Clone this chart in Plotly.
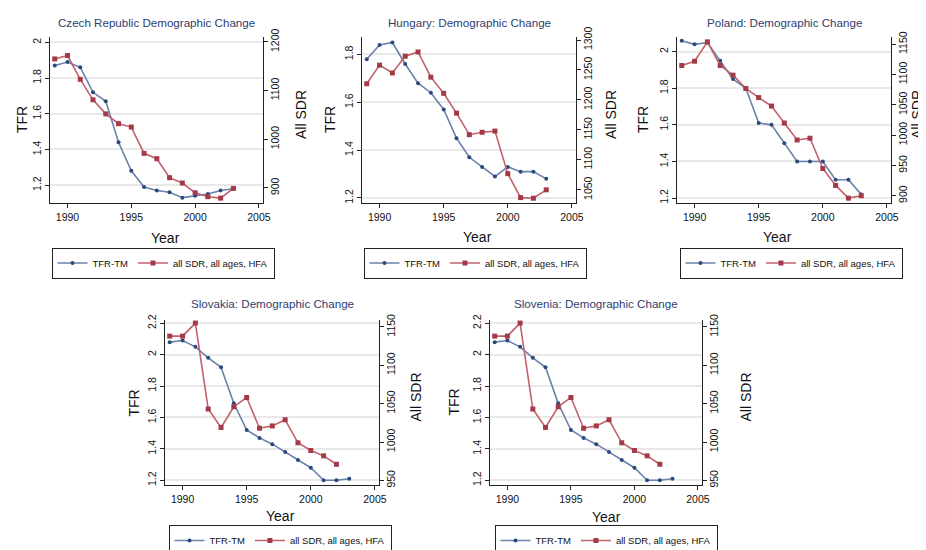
import plotly.graph_objects as go

# ---------------- data ----------------
years = [1989, 1990, 1991, 1992, 1993, 1994, 1995, 1996, 1997, 1998, 1999, 2000, 2001, 2002, 2003]
years_to_2002 = years[:-1]

czech_tfr = [1.87, 1.89, 1.86, 1.72, 1.67, 1.44, 1.28, 1.19, 1.17, 1.16, 1.13, 1.14, 1.15, 1.17, 1.18]
czech_sdr = [1165, 1172, 1123, 1081, 1052, 1032, 1025, 971, 960, 921, 910, 890, 882, 879, 899]

hungary_tfr = [1.78, 1.84, 1.85, 1.76, 1.68, 1.64, 1.57, 1.45, 1.37, 1.33, 1.29, 1.33, 1.31, 1.31, 1.28]
hungary_sdr = [1227, 1258, 1245, 1273, 1280, 1238, 1211, 1178, 1142, 1146, 1148, 1077, 1037, 1036, 1050]

poland_tfr = [2.06, 2.04, 2.05, 1.95, 1.85, 1.80, 1.61, 1.60, 1.50, 1.40, 1.40, 1.40, 1.30, 1.30, 1.22]
poland_sdr = [1115, 1122, 1154, 1115, 1099, 1077, 1062, 1048, 1020, 992, 995, 945, 917, 896, 900]

slovakia_tfr = [2.08, 2.09, 2.05, 1.98, 1.92, 1.69, 1.52, 1.47, 1.43, 1.38, 1.33, 1.28, 1.20, 1.20, 1.21]
slovakia_sdr = [1138, 1138, 1155, 1043, 1019, 1046, 1058, 1018, 1021, 1029, 999, 989, 982, 971]

slovenia_tfr = [2.08, 2.09, 2.05, 1.98, 1.92, 1.69, 1.52, 1.47, 1.43, 1.38, 1.33, 1.28, 1.20, 1.20, 1.21]
slovenia_sdr = [1138, 1138, 1155, 1043, 1019, 1046, 1058, 1018, 1021, 1029, 999, 989, 982, 971]

titles = ["Czech Republic Demographic Change", "Hungary: Demographic Change",
          "Poland: Demographic Change", "Slovakia: Demographic Change",
          "Slovenia: Demographic Change"]

x_ticks = [1990, 1995, 2000, 2005]
tfr_ticks = [
    [1.2, 1.4, 1.6, 1.8, 2.0],
    [1.2, 1.4, 1.6, 1.8],
    [1.2, 1.4, 1.6, 1.8, 2.0],
    [1.2, 1.4, 1.6, 1.8, 2.0, 2.2],
    [1.2, 1.4, 1.6, 1.8, 2.0, 2.2],
]
tfr_ticklabels = [
    ["1.2", "1.4", "1.6", "1.8", "2"],
    ["1.2", "1.4", "1.6", "1.8"],
    ["1.2", "1.4", "1.6", "1.8", "2"],
    ["1.2", "1.4", "1.6", "1.8", "2", "2.2"],
    ["1.2", "1.4", "1.6", "1.8", "2", "2.2"],
]
sdr_ticks = [
    [900, 1000, 1100, 1200],
    [1050, 1100, 1150, 1200, 1250, 1300],
    [900, 950, 1000, 1050, 1100, 1150],
    [950, 1000, 1050, 1100, 1150],
    [950, 1000, 1050, 1100, 1150],
]

series = [
    (czech_tfr, years, czech_sdr, years),
    (hungary_tfr, years, hungary_sdr, years),
    (poland_tfr, years, poland_sdr, years),
    (slovakia_tfr, years, slovakia_sdr, years_to_2002),
    (slovenia_tfr, years, slovenia_sdr, years_to_2002),
]

# ---------------- layout geometry (pixels) ----------------
W, H = 926, 550
# plot area boxes: left, right, top, bottom
boxes = [
    (42, 255, 29, 195),
    (354, 568, 29, 195),
    (669, 883, 29, 195),
    (157, 371, 312, 477),
    (482, 694, 312, 477),
]
tfr_ranges = [(1.10, 2.03), (1.179, 1.873), (1.173, 2.08), (1.17, 2.221), (1.17, 2.221)]
sdr_ranges = [(869, 1210), (1028, 1305), (888, 1162), (944, 1159), (944, 1159)]
x_range = (1988.63, 2005.32)

title_y = [14, 14, 14, 295, 295]
tfr_title_x = [14, 322, 635, 125, 445]
sdr_title_x = [293, 603, 909, 407, 737]
year_pos = [(157, 230), (469, 229), (769, 229), (272, 508), (598, 509)]
# legend: (center x, y, anchor)
legend_pos = [(155, 255, "middle"), (467, 255, "middle"), (783, 255, "middle"),
              (272, 548, "bottom"), (598, 548, "bottom")]

FONT = "Liberation Sans, Arial, sans-serif"
BLUE_LINE = "#6b82ad"
BLUE_MARK = "#2b4a7c"
RED_LINE = "#c2606b"
RED_MARK = "#a33a48"
TITLE_COL = "#2e3d6e"
AX_COL = "#222222"

fig = go.Figure()
annotations = []
layout = dict(
    width=W, height=H,
    margin=dict(l=0, r=0, t=0, b=0),
    paper_bgcolor="white", plot_bgcolor="white",
    font=dict(family=FONT, color="#111111", size=10),
    showlegend=True,
)

def px(x):
    return x / W

def py(y):
    return 1 - y / H

for i in range(5):
    n = i + 1
    m = i + 6
    xname = "x" if n == 1 else f"x{n}"
    yl = "y" if n == 1 else f"y{n}"
    yr = f"y{m}"
    leg = "legend" if n == 1 else f"legend{n}"
    tfr, tyears, sdr, syears = series[i]

    fig.add_trace(go.Scatter(
        x=tyears, y=tfr, xaxis=xname, yaxis=yl, name="TFR-TM", legend=leg,
        mode="lines+markers",
        line=dict(color=BLUE_LINE, width=1.6),
        marker=dict(symbol="circle", size=4, color=BLUE_MARK),
    ))
    fig.add_trace(go.Scatter(
        x=syears, y=sdr, xaxis=xname, yaxis=yr, name="all SDR, all ages, HFA", legend=leg,
        mode="lines+markers",
        line=dict(color=RED_LINE, width=1.6),
        marker=dict(symbol="square", size=5, color=RED_MARK),
    ))

    l, r, t, b = boxes[i]
    xkey = "xaxis" if n == 1 else f"xaxis{n}"
    ylkey = "yaxis" if n == 1 else f"yaxis{n}"
    yrkey = f"yaxis{m}"

    layout[xkey] = dict(
        domain=[px(l), px(r)], anchor=yl, range=list(x_range),
        tickvals=x_ticks, ticks="outside", ticklen=4, tickcolor=AX_COL,
        showline=True, linecolor=AX_COL, linewidth=1, showgrid=False,
        zeroline=False, tickfont=dict(size=10.5), automargin=False,
    )
    layout[ylkey] = dict(
        domain=[py(b), py(t)], anchor=xname, range=list(tfr_ranges[i]),
        tickvals=tfr_ticks[i], ticktext=tfr_ticklabels[i], tickangle=-90,
        ticks="outside", ticklen=4, tickcolor=AX_COL,
        showline=True, linecolor=AX_COL, linewidth=1,
        showgrid=True, gridcolor="#e8e8e8", gridwidth=1.5,
        zeroline=False, tickfont=dict(size=10.5), automargin=False,
    )
    layout[yrkey] = dict(
        overlaying=yl, anchor=xname, side="right", range=list(sdr_ranges[i]),
        tickvals=sdr_ticks[i], tickangle=-90, ticklabelstandoff=-2,
        ticks="outside", ticklen=4, tickcolor=AX_COL,
        showline=True, linecolor=AX_COL, linewidth=1,
        showgrid=False, zeroline=False, tickfont=dict(size=10.5), automargin=False,
    )

    lx, ly, lanchor = legend_pos[i]
    layout[leg] = dict(
        orientation="h", x=px(lx), y=py(ly), xanchor="center", yanchor=lanchor,
        bordercolor="#222222", borderwidth=1, bgcolor="rgba(255,255,255,0)",
        font=dict(size=9.5), itemwidth=30, tracegroupgap=0,
    )

    # title
    annotations.append(dict(
        text=titles[i], x=px((l + r) / 2), y=py(title_y[i]), xref="paper", yref="paper",
        xanchor="center", yanchor="middle", showarrow=False,
        font=dict(size=11.6, color=TITLE_COL),
    ))
    # axis titles
    cy = (t + b) / 2
    annotations.append(dict(
        text="TFR", x=px(tfr_title_x[i]), y=py(cy), xref="paper", yref="paper",
        xanchor="center", yanchor="middle", showarrow=False, textangle=-90,
        font=dict(size=14, color="#111111"),
    ))
    annotations.append(dict(
        text="All SDR", x=px(sdr_title_x[i]), y=py(cy - 5), xref="paper", yref="paper",
        xanchor="center", yanchor="middle", showarrow=False, textangle=-90,
        font=dict(size=14, color="#111111"),
    ))
    yx, yy = year_pos[i]
    annotations.append(dict(
        text="Year", x=px(yx), y=py(yy), xref="paper", yref="paper",
        xanchor="center", yanchor="middle", showarrow=False,
        font=dict(size=14, color="#111111"),
    ))

layout["annotations"] = annotations
fig.update_layout(**layout)
fig.write_html("out.html")
